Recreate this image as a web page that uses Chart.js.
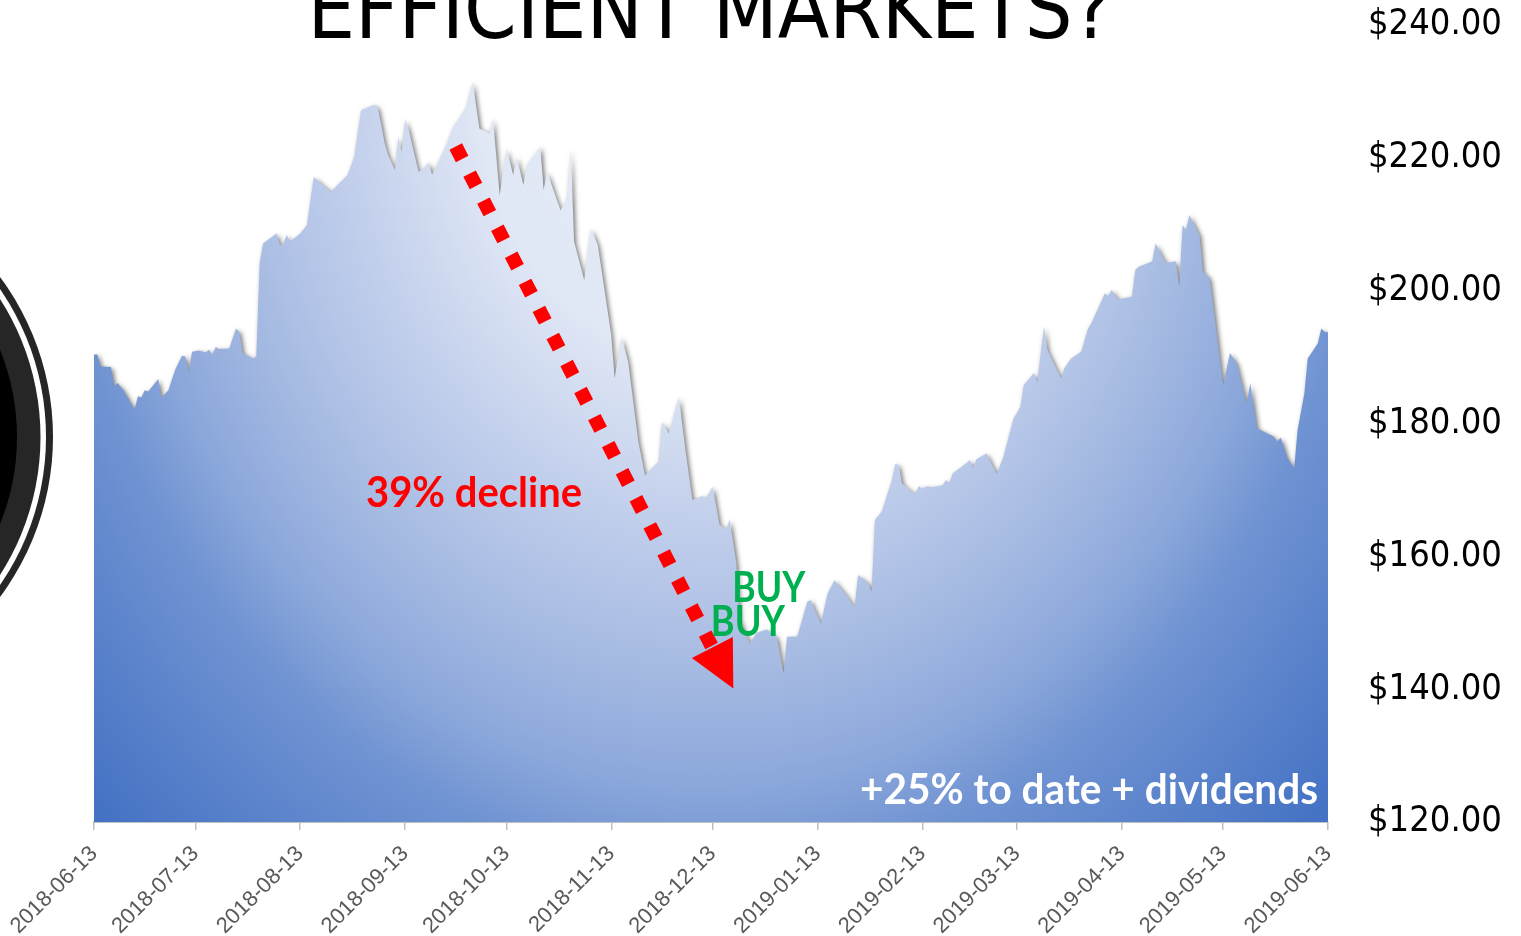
<!DOCTYPE html>
<html>
<head>
<meta charset="utf-8">
<title>Efficient Markets?</title>
<script src="https://cdn.jsdelivr.net/npm/chart.js@4.4.1/dist/chart.umd.min.js"></script>
<style>
  html, body { margin: 0; padding: 0; background: #fff; }
  #wrap { position: relative; width: 1521px; height: 936px; }
</style>
</head>
<body>
<div id="wrap"><canvas id="chart" width="1521" height="936"></canvas></div>
<script>
// days counted from 2018-06-13, closing price in $
const days = [
    0, 1, 2, 5, 6, 7, 9, 12, 13, 14, 15, 16, 19, 20, 22, 24, 26, 27, 28, 29,
    31, 33, 34, 35, 36, 37, 40, 42, 43, 44, 47, 48, 49, 50, 54, 55, 56, 57, 58, 61,
    63, 65, 70, 75, 77, 79, 83, 84, 86, 87, 89, 90, 91, 92, 93, 96, 97, 99, 100, 104,
    106, 108, 110, 112, 114, 117, 118, 120, 122, 124, 125, 127, 128, 132, 133, 134, 138, 140, 141, 142,
    145, 147, 149, 153, 154, 156, 158, 161, 163, 167, 168, 170, 173, 175, 177, 180, 181, 183, 185, 187,
    188, 190, 191, 194, 196, 199, 202, 204, 205, 208, 211, 212, 215, 217, 219, 223, 224, 225, 226, 229,
    230, 231, 233, 236, 237, 238, 239, 242, 243, 244, 245, 246, 248, 251, 252, 253, 254, 258, 259, 260,
    261, 264, 267, 269, 272, 274, 275, 278, 279, 281, 282, 286, 287, 289, 292, 294, 295, 299, 300, 301,
    303, 307, 308, 309, 313, 314, 317, 320, 321, 322, 323, 324, 327, 328, 330, 334, 336, 338, 341, 342,
    344, 349, 350, 351, 353, 355, 356, 358, 359, 362, 363, 364, 365
];
const prices = [
    190.4, 190.4, 188.6, 188.5, 185.6, 186.1, 184.8, 182.1, 184.1, 183.9, 185.0, 184.8, 186.7, 183.9, 185.0, 188.1, 190.2, 190.1, 187.8, 190.8,
    191.0, 190.7, 191.1, 190.3, 191.5, 191.2, 191.3, 194.3, 193.8, 190.6, 189.8, 190.1, 204.1, 207.1, 208.6, 206.9, 207.0, 208.4, 207.4, 208.6,
    209.9, 217.1, 214.9, 217.4, 220.2, 227.2, 228.0, 227.5, 222.2, 220.4, 218.2, 223.2, 220.9, 225.8, 224.4, 217.9, 218.2, 219.3, 217.5, 221.7,
    224.4, 226.0, 227.5, 231.5, 224.4, 223.7, 226.0, 214.4, 221.4, 217.4, 220.2, 215.9, 218.9, 221.7, 215.2, 217.9, 212.1, 213.9, 221.4, 207.4,
    201.6, 209.4, 206.9, 193.3, 186.8, 193.1, 189.3, 177.3, 172.2, 174.3, 180.3, 178.5, 184.0, 175.8, 168.5, 169.1, 168.7, 170.5, 164.8, 164.0,
    165.6, 159.0, 150.4, 146.9, 148.5, 149.0, 147.8, 142.4, 147.9, 147.9, 153.2, 153.4, 149.9, 154.4, 156.4, 153.9, 152.9, 152.5, 157.2, 156.0,
    154.7, 165.5, 166.7, 171.5, 173.9, 173.8, 171.0, 169.7, 169.5, 170.6, 170.1, 170.5, 170.4, 170.7, 171.5, 171.0, 172.5, 174.0, 174.5, 173.3,
    174.6, 175.5, 172.4, 175.0, 180.8, 182.5, 185.8, 187.6, 186.3, 194.6, 191.1, 186.8, 188.3, 189.8, 190.8, 194.3, 195.1, 199.6, 199.2, 200.1,
    198.7, 199.1, 203.1, 203.6, 204.4, 207.1, 204.2, 204.4, 200.6, 209.9, 209.1, 211.4, 208.4, 202.9, 201.9, 185.8, 190.6, 189.1, 183.0, 186.1,
    179.3, 178.0, 177.3, 177.9, 174.8, 173.3, 179.0, 184.5, 189.8, 192.1, 194.3, 193.8, 193.7
];

const tickDays = [0, 30, 61, 92, 122, 153, 183, 214, 245, 273, 304, 334, 365];
const tickLabels = [
    '2018-06-13', '2018-07-13', '2018-08-13', '2018-09-13', '2018-10-13', '2018-11-13', '2018-12-13',
    '2019-01-13', '2019-02-13', '2019-03-13', '2019-04-13', '2019-05-13', '2019-06-13'
];
const priceTicks = [120, 140, 160, 180, 200, 220, 240];

// annotations, anchored in [day, price]
const notes = [
    { text: '39% decline', at: [112.4, 169.5], color: '#ff0000', width: 216 },
    { text: 'BUY', at: [199.6, 155.2], color: '#00b050', width: 73 },
    { text: 'BUY', at: [193.4, 150.1], color: '#00b050', width: 74 },
    { text: '+25% to date + dividends', at: [294.3, 124.7], color: '#ffffff', width: 458 }
];
const arrowFrom = [107.0, 221.7];
const arrowTo = [189.1, 140.1];

const TITLE = 'EFFICIENT MARKETS?';
const NARROW = '"DejaVu Sans Condensed", "DejaVu Sans", sans-serif';

function areaFill(context) {
    const chart = context.chart;
    const area = chart.chartArea;
    if (!area) return '#8ea8da';
    const off = document.createElement('canvas');
    off.width = chart.width;
    off.height = chart.height;
    const g = off.getContext('2d');
    const cx = (area.left + area.right) / 2;
    const cy = area.top + 57;
    const rx = (area.right - area.left) / 2;
    const ry = area.bottom - cy;
    g.translate(cx, cy);
    g.scale(1, ry / rx);
    const grad = g.createRadialGradient(0, 0, 0, 0, 0, rx * 1.4);
    grad.addColorStop(0, '#eaf0f9');
    grad.addColorStop(0.27, '#e0e7f5');
    grad.addColorStop(0.44, '#bfcdeb');
    grad.addColorStop(0.57, '#a5bae2');
    grad.addColorStop(0.69, '#88a5da');
    grad.addColorStop(0.76, '#7093d2');
    grad.addColorStop(1, '#4472c4');
    g.fillStyle = grad;
    g.fillRect(-cx, -cy * rx / ry, off.width, off.height * rx / ry);
    return chart.ctx.createPattern(off, 'no-repeat');
}

const areaShadow = {
    id: 'areaShadow',
    beforeDatasetsDraw(chart) {
        const ctx = chart.ctx;
        ctx.save();
        ctx.shadowColor = 'rgba(0, 0, 0, 0.55)';
        ctx.shadowBlur = 5;
        ctx.shadowOffsetX = 2;
        ctx.shadowOffsetY = 2;
    },
    afterDatasetsDraw(chart) {
        chart.ctx.restore();
    }
};

const sideBadge = {
    id: 'sideBadge',
    beforeDraw(chart) {
        const ctx = chart.ctx;
        const rings = [[268, '#262626'], [261, '#ffffff'], [255.5, '#262626'], [232, '#000000']];
        ctx.save();
        rings.forEach(([r, c]) => {
            ctx.fillStyle = c;
            ctx.beginPath();
            ctx.arc(-215, 437, r, 0, Math.PI * 2);
            ctx.fill();
        });
        ctx.restore();
    }
};

// draw text at a given font size, squeezed sideways to a given width
function squeezeText(ctx, text, x, y, font, width) {
    ctx.font = font;
    const w = ctx.measureText(text).width;
    ctx.save();
    ctx.translate(x, y);
    ctx.scale(Math.min(1.15, width / w), 1);
    ctx.fillText(text, 0, 0);
    ctx.restore();
}

const overlay = {
    id: 'overlay',
    afterDraw(chart) {
        const ctx = chart.ctx;
        const xs = chart.scales.x;
        const ys = chart.scales.y;
        ctx.save();

        // title, cut off at the top edge
        ctx.fillStyle = '#000';
        ctx.textAlign = 'center';
        ctx.textBaseline = 'alphabetic';
        squeezeText(ctx, TITLE, 710, 38, `400 84px ${NARROW}`, 805);

        // dotted arrow
        const p0 = { x: xs.getPixelForValue(arrowFrom[0]), y: ys.getPixelForValue(arrowFrom[1]) };
        const p1 = { x: xs.getPixelForValue(arrowTo[0]), y: ys.getPixelForValue(arrowTo[1]) };
        const len = Math.hypot(p1.x - p0.x, p1.y - p0.y);
        const ux = (p1.x - p0.x) / len, uy = (p1.y - p0.y) / len;
        const base = { x: p1.x - ux * 46, y: p1.y - uy * 46 };
        ctx.strokeStyle = '#ff0000';
        ctx.fillStyle = '#ff0000';
        ctx.lineWidth = 14;
        ctx.setLineDash([14, 16.4]);
        ctx.beginPath();
        ctx.moveTo(p0.x, p0.y);
        ctx.lineTo(base.x, base.y);
        ctx.stroke();
        ctx.setLineDash([]);
        ctx.beginPath();
        ctx.moveTo(base.x - uy * 23, base.y + ux * 23);
        ctx.lineTo(base.x + uy * 23, base.y - ux * 23);
        ctx.lineTo(p1.x, p1.y);
        ctx.closePath();
        ctx.fill();

        // text notes
        ctx.textBaseline = 'middle';
        notes.forEach(n => {
            ctx.fillStyle = n.color;
            squeezeText(ctx, n.text, xs.getPixelForValue(n.at[0]), ys.getPixelForValue(n.at[1]),
                '700 42px Lato, sans-serif', n.width);
        });
        ctx.restore();
    }
};

new Chart(document.getElementById('chart'), {
    type: 'line',
    data: {
        datasets: [{
            data: days.map((d, i) => ({ x: d, y: prices[i] })),
            fill: 'start',
            backgroundColor: areaFill,
            borderColor: 'rgba(0,0,0,0)',
            borderWidth: 0,
            pointRadius: 0,
            tension: 0
        }]
    },
    options: {
        responsive: false,
        animation: false,
        events: [],
        devicePixelRatio: 1,
        layout: { padding: { left: 94, right: 0, top: 25, bottom: 0 } },
        plugins: { legend: { display: false }, tooltip: { enabled: false } },
        scales: {
            x: {
                type: 'linear',
                min: 0,
                max: 365,
                afterBuildTicks: s => { s.ticks = tickDays.map(v => ({ value: v })); },
                afterFit: s => { s.height = 114; s.paddingLeft = 0; s.paddingRight = 0; },
                grid: { drawOnChartArea: false, drawTicks: true, tickLength: 8, color: '#bfbfbf', lineWidth: 1.5 },
                border: { display: true, color: '#bfbfbf', width: 2 },
                ticks: {
                    autoSkip: false,
                    minRotation: 45,
                    maxRotation: 45,
                    padding: 11,
                    color: '#595959',
                    font: { family: '"Liberation Sans", Arial, sans-serif', size: 22 },
                    callback: (v, i) => tickLabels[i]
                }
            },
            y: {
                position: 'right',
                min: 120,
                max: 240,
                afterBuildTicks: s => { s.ticks = priceTicks.map(v => ({ value: v })); },
                afterFit: s => { s.width = 193; s.paddingTop = 0; s.paddingBottom = 0; },
                grid: { display: false, drawTicks: false },
                border: { display: false },
                ticks: {
                    padding: 40,
                    color: '#000',
                    font: { family: NARROW, size: 36 },
                    callback: v => '$' + v.toFixed(2)
                }
            }
        }
    },
    plugins: [sideBadge, areaShadow, overlay]
});
</script>
</body>
</html>
